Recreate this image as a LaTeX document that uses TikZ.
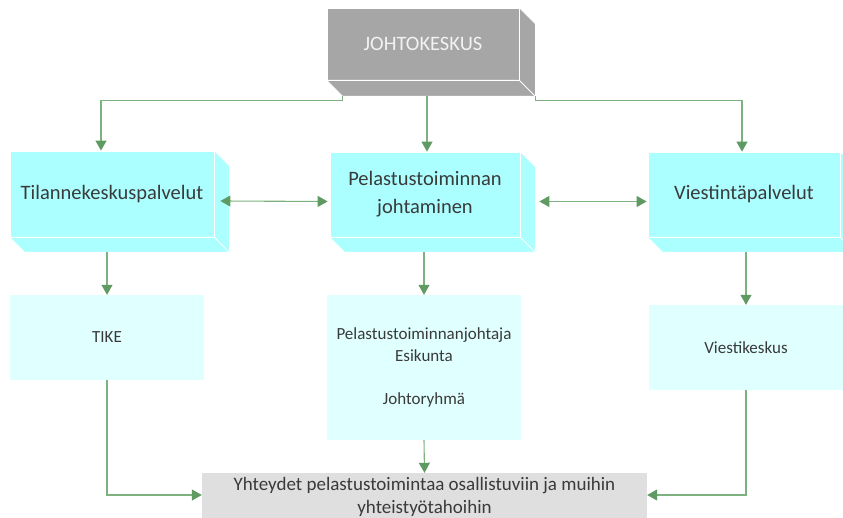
\documentclass[tikz,border=0pt]{standalone}
\usepackage{fontspec}
\setmainfont{Carlito}
\usetikzlibrary{arrows.meta,calc}

\definecolor{cyanface}{HTML}{ABFFFF}
\definecolor{paleface}{HTML}{E0FFFF}
\definecolor{greyface}{HTML}{A6A6A6}
\definecolor{barface}{HTML}{DFDFDF}
\definecolor{linkgreen}{HTML}{7DB27F}
\definecolor{tipgreen}{HTML}{5E9A62}
\definecolor{txt}{HTML}{3A3A3A}

% draws the right and bottom faces of a raised slab behind node #1
\newcommand{\slabdepth}[3]{%
  \filldraw[fill=#2, draw=white, line width=0.8pt]
    (#1.north east) -- ++(#3,#3) -- ($(#1.south east)+(#3,#3)$)
    -- ($(#1.south west)+(#3,#3)$) -- (#1.south west) -- (#1.south east) -- cycle;
  \draw[white, line width=0.8pt] (#1.south east) -- ++(#3,#3);
}

\tikzset{
  slab/.style={draw=white, line width=0.8pt, fill=cyanface, text=txt,
    inner sep=0pt, align=center, font=\fontsize{20.5}{28}\selectfont},
  panel/.style={fill=paleface, draw=none, text=txt, inner sep=0pt,
    align=center, font=\fontsize{17}{21.5}\selectfont},
  link/.style={draw=linkgreen, line width=1.1pt,
    -{Triangle[length=10pt, width=11pt, color=tipgreen]}},
  duplex/.style={draw=linkgreen, line width=1.1pt,
    {Triangle[length=10pt, width=11pt, color=tipgreen]}-{Triangle[length=10pt, width=11pt, color=tipgreen]}},
}

\begin{document}
\begin{tikzpicture}[x=1pt, y=-1pt]
\useasboundingbox (0,0) rectangle (843,518);

% command centre
\node[slab, fill=greyface, text=white!95!black, minimum width=192pt, minimum height=72pt,
      font=\fontsize{20.5}{24}\selectfont] (johto) at (423,44) {JOHTOKESKUS};
\slabdepth{johto}{greyface}{16}

% service slabs
\node[slab, minimum width=204pt, minimum height=86pt] (tilanne) at (112,194) {Tilannekeskuspalvelut};
\slabdepth{tilanne}{cyanface}{15}
\node[slab, minimum width=190pt, minimum height=85pt] (pelastus) at (425,194.5) {Pelastustoiminnan\\johtaminen};
\slabdepth{pelastus}{cyanface}{15}
\node[slab, minimum width=192pt, minimum height=85pt] (viestinta) at (744,194.5) {Viestintäpalvelut};
\slabdepth{viestinta}{cyanface}{15}

% units below
\node[panel, minimum width=194pt, minimum height=85pt] (tike) at (107,337.5) {TIKE};
\node[panel, minimum width=194pt, minimum height=145pt] (johtaja) at (424,367.5)
  {Pelastustoiminnanjohtaja\\Esikunta\\[21.5pt]Johtoryhmä};
\node[panel, minimum width=194pt, minimum height=85pt] (viestikeskus) at (746,347.5) {Viestikeskus};

% shared links bar
\node[fill=barface, text=txt, inner sep=0pt, align=center, minimum width=445pt, minimum height=47pt,
      font=\fontsize{19}{23}\selectfont] (yhteydet) at (424.5,496.5)
  {Yhteydet pelastustoimintaa osallistuviin ja muihin\\yhteistyötahoihin};

% base edges of the slabs
\coordinate (johto-base) at ($(johto.south)+(0,16)$);
\coordinate (tilanne-base) at ($(tilanne.south)+(0,15)$);
\coordinate (pelastus-base) at ($(pelastus.south)+(0,15)$);
\coordinate (viestinta-base) at ($(viestinta.south)+(0,15)$);

% command centre to services
\draw[link] ($(johto.south west)+(16,16)$) -- ++(0,4) -| ($(tilanne.north)+(-11,0)$);
\draw[link] ($(johto-base)+(4,0)$) -- ($(pelastus.north)+(2,0)$);
\draw[link] ($(johto.south east)+(16,16)$) -- ++(0,4) -| ($(viestinta.north)+(-2,0)$);

% between services
\draw[duplex] ($(tilanne.east)+(6,7)$) -- ($(pelastus.west)+(-2,7)$);
\draw[duplex] ($(pelastus.east)+(19,7)$) -- ($(viestinta.west)+(-1,7)$);

% services to units
\draw[link] (tilanne-base -| tike.north) -- (tike.north);
\draw[link] (pelastus-base -| johtaja.north) -- (johtaja.north);
\draw[link] (viestinta-base -| viestikeskus.north) -- (viestikeskus.north);

% units to the links bar
\draw[link] (tike.south) |- ($(yhteydet.west)+(0,-1.5)$);
\draw[link] (johtaja.south) -- (yhteydet.north);
\draw[link] (viestikeskus.south) |- ($(yhteydet.east)+(0,-1.5)$);
\end{tikzpicture}
\end{document}
